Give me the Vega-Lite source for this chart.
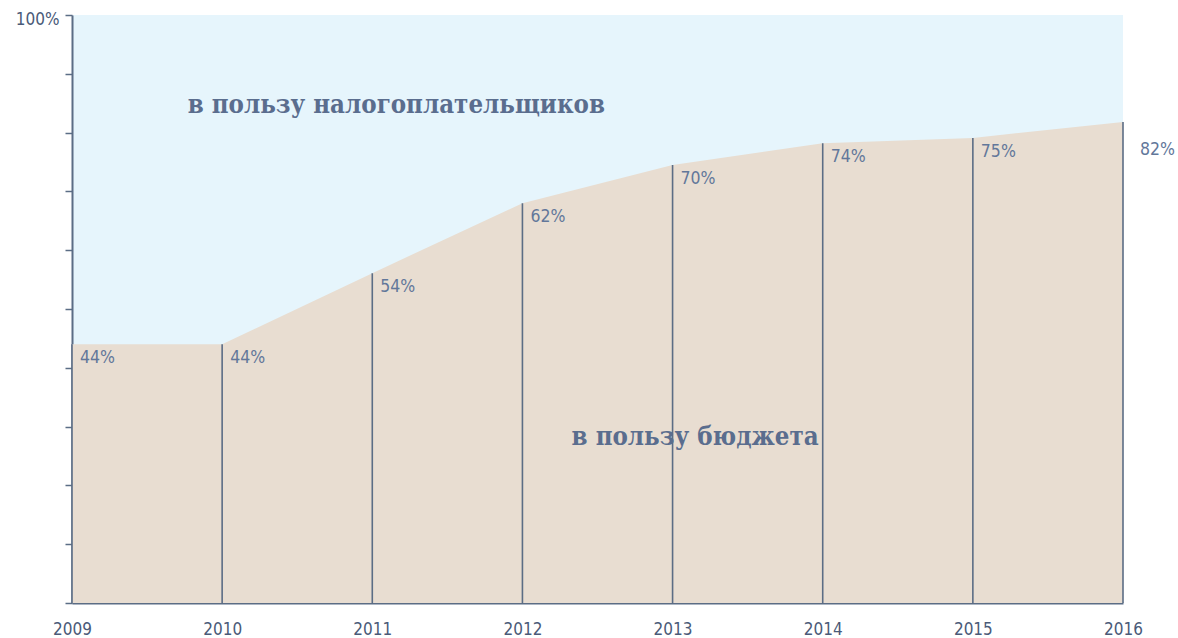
{
  "$schema": "https://vega.github.io/schema/vega-lite/v6.json",
  "width": 1051,
  "height": 588,
  "autosize": {"type": "none"},
  "padding": {"left": 72, "top": 15, "right": 55, "bottom": 35},
  "background": "white",
  "config": {
    "view": {"fill": "#e6f5fc", "stroke": null},
    "axis": {"grid": false}
  },
  "datasets": {
    "shares": [
      {"year": 2009, "share": 44.0, "label": "44%"},
      {"year": 2010, "share": 44.0, "label": "44%"},
      {"year": 2011, "share": 56.1, "label": "54%"},
      {"year": 2012, "share": 68.0, "label": "62%"},
      {"year": 2013, "share": 74.5, "label": "70%"},
      {"year": 2014, "share": 78.2, "label": "74%"},
      {"year": 2015, "share": 79.1, "label": "75%"},
      {"year": 2016, "share": 81.8, "label": "82%"}
    ],
    "notes": [
      {"year": 2011.16, "share": 84.7, "text": "в пользу налогоплательщиков"},
      {"year": 2013.15, "share": 28.2, "text": "в пользу бюджета"}
    ]
  },
  "layer": [
    {
      "data": {"name": "shares"},
      "mark": {"type": "area", "color": "#e8ddd1", "interpolate": "linear"},
      "encoding": {
        "x": {
          "field": "year", "type": "quantitative",
          "scale": {"domain": [2009, 2016], "nice": false, "zero": false},
          "axis": {
            "values": [2009, 2010, 2011, 2012, 2013, 2014, 2015, 2016],
            "format": "d", "title": null, "ticks": false,
            "domainColor": "#5b6d85", "domainWidth": 2,
            "labelFont": "DejaVu Sans Condensed", "labelFontSize": 17,
            "labelColor": "#4a5a78", "labelPadding": 18, "labelFlush": false
          }
        },
        "y": {
          "field": "share", "type": "quantitative",
          "scale": {"domain": [0, 100], "nice": false},
          "axis": {
            "values": [0, 10, 20, 30, 40, 50, 60, 70, 80, 90, 100],
            "labelExpr": "datum.value == 100 ? '100%' : ''",
            "title": null, "tickSize": 7, "tickColor": "#5b6d85", "tickWidth": 1.5,
            "domainColor": "#5b6d85", "domainWidth": 2,
            "labelFont": "DejaVu Sans Condensed", "labelFontSize": 17,
            "labelColor": "#4a5a78", "labelPadding": 6, "labelBaseline": "middle",
            "labelOffset": 4
          }
        }
      }
    },
    {
      "data": {"name": "shares"},
      "mark": {"type": "rule", "color": "#5b6d85", "strokeWidth": 1.6},
      "encoding": {
        "x": {"field": "year", "type": "quantitative"},
        "y": {"field": "share", "type": "quantitative"},
        "y2": {"datum": 0}
      }
    },
    {
      "data": {"name": "shares"},
      "transform": [{"filter": "datum.year < 2016"}],
      "mark": {"type": "text", "align": "left", "baseline": "top", "dx": 8, "dy": 5,
               "font": "DejaVu Sans Condensed", "fontSize": 17.5, "color": "#62779a"},
      "encoding": {
        "x": {"field": "year", "type": "quantitative"},
        "y": {"field": "share", "type": "quantitative"},
        "text": {"field": "label", "type": "nominal"}
      }
    },
    {
      "data": {"name": "shares"},
      "transform": [{"filter": "datum.year == 2016"}],
      "mark": {"type": "text", "align": "left", "baseline": "top", "dx": 17, "dy": 19,
               "font": "DejaVu Sans Condensed", "fontSize": 17.5, "color": "#62779a"},
      "encoding": {
        "x": {"field": "year", "type": "quantitative"},
        "y": {"field": "share", "type": "quantitative"},
        "text": {"field": "label", "type": "nominal"}
      }
    },
    {
      "data": {"name": "notes"},
      "mark": {"type": "text", "align": "center", "baseline": "middle",
               "font": "DejaVu Serif Condensed", "fontWeight": "bold", "fontSize": 25.6, "color": "#5a6d8e"},
      "encoding": {
        "x": {"field": "year", "type": "quantitative"},
        "y": {"field": "share", "type": "quantitative"},
        "text": {"field": "text", "type": "nominal"}
      }
    }
  ]
}
